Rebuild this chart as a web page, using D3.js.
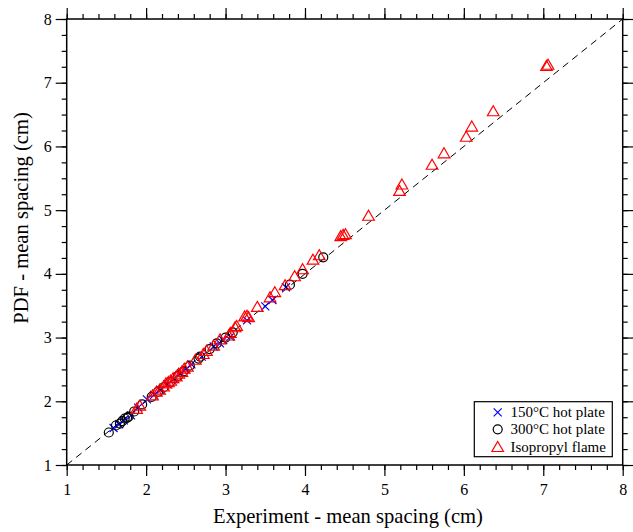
<!DOCTYPE html>
<html><head><meta charset="utf-8">
<script src="https://cdn.jsdelivr.net/npm/d3@7"></script>
<style>body{margin:0;background:#fff}svg{display:block}text{font-family:"Liberation Serif","Times New Roman",serif}</style>
</head><body><svg id="c" width="633" height="532"></svg>
<script>
const xTicks = [1,2,3,4,5,6,7,8];
const yTicks = [1,2,3,4,5,6,7,8];
const seriesNames = ["150°C hot plate","300°C hot plate","Isopropyl flame"];
const hot150 = [[1.59,1.58],[1.66,1.64],[1.72,1.70],[1.81,1.78],[1.90,1.90],[2.01,2.03],[2.10,2.10],[2.18,2.18],[2.27,2.27],[2.35,2.35],[2.44,2.44],[2.50,2.50],[2.57,2.58],[2.70,2.70],[2.85,2.86],[2.93,2.91],[2.97,2.96],[3.06,3.01],[3.27,3.27],[3.50,3.49],[3.59,3.59],[3.76,3.79]];
const hot300 = [[1.53,1.51],[1.62,1.62],[1.67,1.65],[1.70,1.69],[1.73,1.73],[1.76,1.74],[1.78,1.76],[1.85,1.84],[1.95,1.95],[2.07,2.07],[2.15,2.15],[2.22,2.22],[2.30,2.30],[2.40,2.40],[2.47,2.47],[2.55,2.56],[2.66,2.67],[2.68,2.70],[2.80,2.82],[2.89,2.91],[3.00,3.00],[3.09,3.08],[3.81,3.83],[3.97,4.00],[4.23,4.26]];
const flame = [[1.88,1.89],[1.92,1.94],[2.08,2.10],[2.13,2.16],[2.17,2.19],[2.22,2.24],[2.25,2.29],[2.28,2.31],[2.31,2.33],[2.34,2.37],[2.38,2.40],[2.41,2.44],[2.45,2.47],[2.48,2.52],[2.52,2.55],[2.62,2.66],[2.72,2.75],[2.76,2.80],[2.85,2.88],[2.93,2.98],[3.04,3.04],[3.06,3.08],[3.12,3.17],[3.14,3.19],[3.24,3.34],[3.27,3.35],[3.29,3.33],[3.40,3.49],[3.56,3.64],[3.62,3.72],[3.75,3.83],[3.87,3.97],[3.97,4.08],[4.10,4.23],[4.18,4.30],[4.45,4.60],[4.48,4.62],[4.51,4.63],[4.80,4.92],[5.19,5.31],[5.22,5.41],[5.60,5.72],[5.75,5.90],[6.03,6.16],[6.10,6.32],[6.37,6.56],[7.04,7.27],[7.06,7.29]];

const svg = d3.select("#c");
const L=66.7, R=622.7, T=19, B=465;
const x = d3.scaleLinear().domain([1,8]).range([L,R]);
const y = d3.scaleLinear().domain([1,8]).range([B,T]);

const xMinor = d3.range(1,8.001,0.2).map(v=>+v.toFixed(2));
const yMinor = d3.range(1,8.001,0.25);

function axisG(axis, tr){ const g=svg.append("g").attr("transform",tr).call(axis); g.select(".domain").remove(); g.selectAll("line").attr("stroke","#000").attr("stroke-width",1.2); return g; }
axisG(d3.axisBottom(x).tickValues(xMinor).tickSize(5).tickFormat(""), `translate(0,${B})`);
axisG(d3.axisTop(x).tickValues(xMinor).tickSize(5).tickFormat(""), `translate(0,${T})`);
axisG(d3.axisLeft(y).tickValues(yMinor).tickSize(5).tickFormat(""), `translate(${L},0)`);
axisG(d3.axisRight(y).tickValues(yMinor).tickSize(5).tickFormat(""), `translate(${R},0)`);
const gx = axisG(d3.axisBottom(x).tickValues(xTicks).tickSize(11).tickPadding(8).tickFormat(d3.format("d")), `translate(0,${B})`);
axisG(d3.axisTop(x).tickValues(xTicks).tickSize(11).tickFormat(""), `translate(0,${T})`);
const gy = axisG(d3.axisLeft(y).tickValues(yTicks).tickSize(11).tickPadding(4).tickFormat(d3.format("d")), `translate(${L},0)`);
axisG(d3.axisRight(y).tickValues(yTicks).tickSize(11).tickFormat(""), `translate(${R},0)`);
[gx,gy].forEach(g=>g.selectAll("text").attr("font-family","Liberation Serif").attr("font-size",16).attr("fill","#000"));

svg.append("rect").attr("x",L).attr("y",T).attr("width",R-L).attr("height",B-T).attr("fill","none").attr("stroke","#000").attr("stroke-width",1.5);

svg.append("line").attr("x1",x(1)).attr("y1",y(1)).attr("x2",x(8)).attr("y2",y(8)).attr("stroke","#000").attr("stroke-width",1).attr("stroke-dasharray","7,5");

function drawX(g,cx,cy,c){ const s=4; g.append("path").attr("d",`M${cx-s},${cy-s}L${cx+s},${cy+s}M${cx-s},${cy+s}L${cx+s},${cy-s}`).attr("stroke",c).attr("stroke-width",1.2).attr("fill","none"); }
function drawO(g,cx,cy,c){ g.append("circle").attr("cx",cx).attr("cy",cy).attr("r",4.5).attr("fill","none").attr("stroke",c).attr("stroke-width",1.2); }
function drawT(g,cx,cy,c){ const w=5.8,h=5; g.append("path").attr("d",`M${cx},${cy-h}L${cx+w},${cy+h}L${cx-w},${cy+h}Z`).attr("fill","none").attr("stroke",c).attr("stroke-width",1.2); }

const pts = svg.append("g");
hot150.forEach(d=>drawX(pts,x(d[0]),y(d[1]),"#0000ff"));
hot300.forEach(d=>drawO(pts,x(d[0]),y(d[1]),"#000"));
flame.forEach(d=>drawT(pts,x(d[0]),y(d[1]),"#ff0000"));

const lg = svg.append("g");
lg.append("rect").attr("x",474.3).attr("y",401.7).attr("width",138).attr("height",55).attr("fill","#fff").attr("stroke","#000").attr("stroke-width",1.2);
const rowsY=[412.3,429.3,446.5];
const drawers=[[drawX,"#0000ff"],[drawO,"#000"],[drawT,"#ff0000"]];
seriesNames.forEach((n,i)=>{ drawers[i][0](lg,497.7,rowsY[i],drawers[i][1]); lg.append("text").attr("x",510.5).attr("y",rowsY[i]+5).attr("font-size",15).attr("fill","#000").text(n); });

svg.append("text").attr("x",348).attr("y",523).attr("text-anchor","middle").attr("font-size",20.6).text("Experiment - mean spacing (cm)");
svg.append("text").attr("transform",`translate(28,218) rotate(-90)`).attr("text-anchor","middle").attr("font-size",20.6).text("PDF - mean spacing (cm)");
</script></body></html>
